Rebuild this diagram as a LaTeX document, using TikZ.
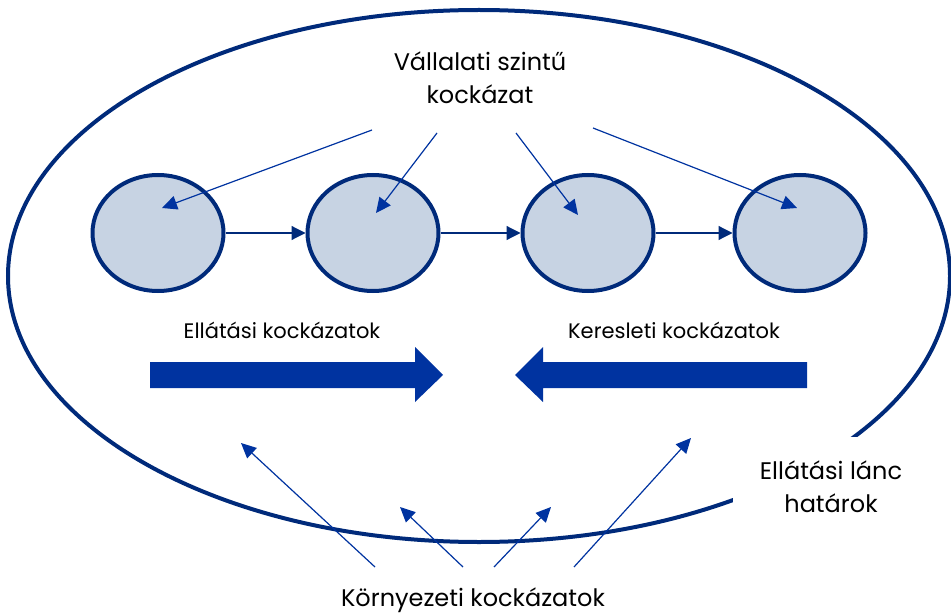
\documentclass[tikz,border=0pt]{standalone}
\usepackage{fontspec}
\setmainfont{Poppins}
\usetikzlibrary{arrows.meta,shapes.geometric,positioning}
\definecolor{navy}{HTML}{002A7A}
\definecolor{riskblue}{HTML}{0033A0}
\definecolor{stagefill}{HTML}{C7D3E3}

\begin{document}
\begin{tikzpicture}[x=1pt, y=-1pt,
  stage/.style={ellipse, draw=navy, line width=4pt, fill=stagefill, minimum width=131pt, minimum height=116pt, inner sep=0pt},
  flow/.style={-{Triangle[length=14pt,width=14pt]}, navy, line width=1.2pt},
  risk/.style={-{Triangle[length=15pt,width=14pt]}, riskblue, line width=1.2pt},
  biglbl/.style={font=\fontsize{24}{33}\selectfont, align=center},
  sublbl/.style={font=\fontsize{21}{24}\selectfont}]
\useasboundingbox (0,0) rectangle (951,615);
% supply chain boundary
\draw[navy, line width=4pt] (479,276) ellipse [x radius=471pt, y radius=266pt];
\fill[white] (733,437) rectangle (951,525);
\node[biglbl] (bound) at (831,487) {Ellátási lánc\\határok};
% chain stages
\node[stage] (s1) at (158,233) {};
\node[stage] (s2) at (373,233) {};
\node[stage] (s3) at (588,233) {};
\node[stage] (s4) at (800,233) {};
\draw[flow] (s1) -- (s2);
\draw[flow] (s2) -- (s3);
\draw[flow] (s3) -- (s4);
% company level risk
\node[biglbl] (corp) at (480,78) {Vállalati szintű\\kockázat};
\coordinate (c1) at (372,130);
\coordinate (c2) at (437,133);
\coordinate (c3) at (516,133);
\coordinate (c4) at (593,128);
\coordinate (t1) at (162,208);
\coordinate (t2) at (376,213);
\coordinate (t3) at (578,215);
\coordinate (t4) at (797,208);
\draw[risk] (c1) -- (t1);
\draw[risk] (c2) -- (t2);
\draw[risk] (c3) -- (t3);
\draw[risk] (c4) -- (t4);
% supply and demand risk
\node[sublbl] (supply) at (282,330) {Ellátási kockázatok};
\node[sublbl] (demand) at (674,330) {Keresleti kockázatok};
\fill[riskblue] (150,362) -- (415,362) -- (415,347) -- (443,375) -- (415,402) -- (415,388) -- (150,388) -- cycle;
\fill[riskblue] (807,362) -- (543,362) -- (543,347) -- (515,375) -- (543,402) -- (543,388) -- (807,388) -- cycle;
% environmental risk
\node[biglbl] (env) at (473,600) {Környezeti kockázatok};
\coordinate (e1) at (375,567);
\coordinate (e2) at (463,567);
\coordinate (e3) at (494,567);
\coordinate (e4) at (574,567);
\coordinate (u1) at (241,443);
\coordinate (u2) at (400,507);
\coordinate (u3) at (551,507);
\coordinate (u4) at (691,438);
\draw[risk] (e1) -- (u1);
\draw[risk] (e2) -- (u2);
\draw[risk] (e3) -- (u3);
\draw[risk] (e4) -- (u4);
\end{tikzpicture}
\end{document}
